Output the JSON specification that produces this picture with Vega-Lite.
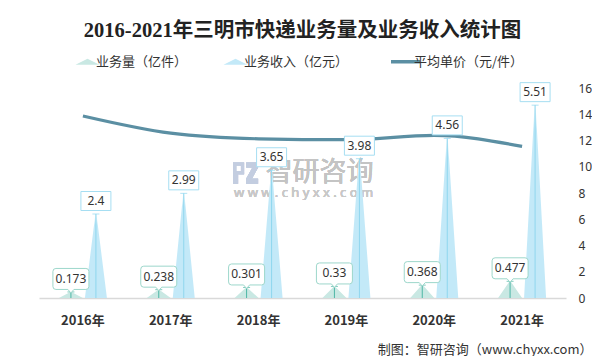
{
  "$schema": "https://vega.github.io/schema/vega-lite/v6.json",
  "width": 527,
  "height": 210,
  "padding": {"left": 39, "top": 20, "right": 0, "bottom": 0},
  "background": "white",
  "title": {
    "text": "2016-2021年三明市快递业务量及业务收入统计图",
    "font": "Liberation Serif, Noto Sans CJK SC",
    "fontSize": 20.5,
    "fontWeight": "bold",
    "color": "#222222",
    "anchor": "middle",
    "offset": 14
  },
  "data": {
    "values": [
      {"year": "2016年", "volume": 0.173, "revenue": 2.4, "price": 13.87},
      {"year": "2017年", "volume": 0.238, "revenue": 2.99, "price": 12.56},
      {"year": "2018年", "volume": 0.301, "revenue": 3.65, "price": 12.13},
      {"year": "2019年", "volume": 0.33, "revenue": 3.98, "price": 12.06},
      {"year": "2020年", "volume": 0.368, "revenue": 4.56, "price": 12.39},
      {"year": "2021年", "volume": 0.477, "revenue": 5.51, "price": 11.55}
    ]
  },
  "encoding": {
    "x": {
      "field": "year",
      "type": "nominal",
      "scale": {"domain": ["2016年", "2017年", "2018年", "2019年", "2020年", "2021年"], "paddingInner": 0, "paddingOuter": 0},
      "axis": {
        "title": "制图：智研咨询（www.chyxx.com）",
        "titleAnchor": "end",
        "titleAlign": "right",
        "titleX": 553,
        "titleY": 51,
        "titleBaseline": "middle",
        "titleFont": "Noto Sans CJK SC",
        "titleFontSize": 13,
        "titleFontWeight": "normal",
        "titleColor": "#333333",
        "labelAngle": 0,
        "labelFont": "Noto Sans CJK SC",
        "labelFontSize": 13,
        "labelFontWeight": "bold",
        "labelColor": "#333333",
        "labelPadding": 16,
        "ticks": false,
        "grid": false,
        "domainColor": "#d9d9d9",
        "domainWidth": 1.5
      }
    }
  },
  "layer": [
    {
      "layer": [
        {
          "mark": {"type": "point", "shape": "M-1,-0.85H-0.12V0.1H-0.6V0.85H-1Z M-0.75,-0.6V-0.15H-0.37V-0.6Z M0.05,-0.85H1V-0.45L0.5,0.45H1V0.85H0.05V0.45L0.55,-0.45H0.05Z", "size": 625, "filled": true, "fill": "#c3cde0", "opacity": 0.9, "strokeWidth": 0, "xOffset": -13},
          "encoding": {"x": {"datum": "2018年"}, "y": {"datum": 3.57, "type": "quantitative", "scale": {"domain": [0, 6]}, "axis": null}}
        },
        {
          "mark": {"type": "text", "text": "智研咨询", "font": "Noto Sans CJK SC", "fontSize": 27, "color": "#c4c4c4", "xOffset": 61},
          "encoding": {"x": {"datum": "2018年"}, "y": {"datum": 3.57, "type": "quantitative"}}
        },
        {
          "mark": {"type": "text", "text": "w w w . c h y x x . c o m", "font": "Noto Sans", "fontSize": 13, "color": "#c8c8c8", "xOffset": 45},
          "encoding": {"x": {"datum": "2018年"}, "y": {"datum": 3.0, "type": "quantitative"}}
        },
        {
          "transform": [
            {"fold": ["revenue"], "as": ["key", "value"]},
            {"impute": "value", "key": "key", "keyvals": ["base", "revenue"], "groupby": ["year"], "value": 0}
          ],
          "mark": {
            "type": "trail",
            "xOffset": 13,
            "clip": true,
            "color": {
              "gradient": "linear",
              "x1": 0, "y1": 0, "x2": 0, "y2": 1,
              "stops": [
                {"offset": 0, "color": "#f2fafd"},
                {"offset": 0.12, "color": "#c3e9f8"},
                {"offset": 1, "color": "#c3e9f8"}
              ]
            }
          },
          "encoding": {
            "y": {"field": "value", "type": "quantitative"},
            "size": {"condition": {"test": "datum.key === 'base'", "value": 22}, "value": 0},
            "detail": {"field": "year"},
            "order": {"field": "key"}
          }
        },
        {
          "transform": [
            {"fold": ["volume"], "as": ["key", "value"]},
            {"impute": "value", "key": "key", "keyvals": ["base", "volume"], "groupby": ["year"], "value": 0}
          ],
          "mark": {"type": "trail", "xOffset": -12, "clip": true},
          "encoding": {
            "y": {"field": "value", "type": "quantitative"},
            "size": {"condition": {"test": "datum.key === 'base'", "value": 24}, "value": 0},
            "detail": {"field": "year"},
            "order": {"field": "key"},
            "color": {"datum": "volume"}
          }
        }
      ]
    },
    {
      "mark": {"type": "line", "interpolate": "monotone", "strokeWidth": 3.2},
      "encoding": {
        "y": {
          "field": "price",
          "type": "quantitative",
          "scale": {"domain": [0, 16]},
          "axis": {
            "orient": "right",
            "title": null,
            "values": [0, 2, 4, 6, 8, 10, 12, 14, 16],
            "domain": false,
            "ticks": false,
            "grid": false,
            "labelPadding": 12,
            "labelFont": "Noto Sans",
            "labelFontSize": 12,
            "labelColor": "#333333"
          }
        },
        "color": {
          "datum": "price",
          "scale": {"domain": ["volume", "revenue", "price"], "range": ["#c9e8e3", "#c3e9f8", "#5b8fa3"]},
          "legend": {
            "orient": "none",
            "legendX": 42,
            "legendY": -33,
            "direction": "horizontal",
            "title": null,
            "labelFont": "Noto Sans CJK SC",
            "labelFontSize": 13,
            "labelColor": "#333333",
            "labelOffset": 2,
            "columnPadding": 35,
            "symbolSize": 841,
            "labelExpr": "datum.value === 'volume' ? '业务量（亿件）' : datum.value === 'revenue' ? '业务收入（亿元）' : '平均单价（元/件）'",
            "encode": {
              "symbols": {
                "update": {
                  "shape": {"signal": "datum.value === 'price' ? 'stroke' : 'M-1,0.25L0,-0.25L1,0.25Z'"},
                  "size": {"signal": "datum.value === 'price' ? 841 : 576"},
                  "strokeWidth": {"signal": "datum.value === 'price' ? 3.5 : 0"},
                  "fill": {"scale": "color", "field": "value"},
                  "stroke": {"scale": "color", "field": "value"},
                  "opacity": {"value": 1}
                }
              }
            }
          }
        }
      }
    },
    {
      "layer": [
        {
          "mark": {"type": "rule", "xOffset": 13, "color": "#8fd6ee", "strokeWidth": 1},
          "encoding": {"y": {"field": "revenue", "type": "quantitative", "scale": {"domain": [0, 6]}, "axis": null}, "y2": {"datum": 0}}
        },
        {
          "mark": {"type": "tick", "orient": "horizontal", "xOffset": 13, "color": "#8fd6ee", "size": 7, "thickness": 1},
          "encoding": {"y": {"field": "revenue", "type": "quantitative"}}
        },
        {
          "mark": {"type": "rule", "xOffset": -12, "color": "#4db6a5", "strokeWidth": 1},
          "encoding": {"y": {"field": "volume", "type": "quantitative"}, "y2": {"datum": 0}}
        },
        {
          "mark": {"type": "tick", "orient": "horizontal", "xOffset": -12, "color": "#4db6a5", "size": 7, "thickness": 1},
          "encoding": {"y": {"field": "volume", "type": "quantitative"}}
        },
        {
          "mark": {"type": "point", "shape": "M-1.5,-0.95H1.5V0.95H-1.5Z", "size": 400, "filled": true, "fill": "white", "stroke": "#a6def2", "strokeWidth": 1, "opacity": 1, "xOffset": 13, "yOffset": -13},
          "encoding": {"y": {"field": "revenue", "type": "quantitative"}}
        },
        {
          "mark": {"type": "text", "font": "Noto Sans", "fontSize": 12, "color": "#333333", "xOffset": 13, "yOffset": -13},
          "encoding": {"y": {"field": "revenue", "type": "quantitative"}, "text": {"field": "revenue", "type": "nominal"}}
        },
        {
          "mark": {"type": "point", "shape": "M-1.5,-1.05H1.5Q1.8,-1.05 1.8,-0.75V0.75Q1.8,1.05 1.5,1.05H0.3L0,1.4L-0.3,1.05H-1.5Q-1.8,1.05 -1.8,0.75V-0.75Q-1.8,-1.05 -1.5,-1.05Z", "size": 400, "filled": true, "fill": "white", "stroke": "#9dd7cb", "strokeWidth": 1, "opacity": 1, "xOffset": -12, "yOffset": -13},
          "encoding": {"y": {"field": "volume", "type": "quantitative"}}
        },
        {
          "mark": {"type": "text", "font": "Noto Sans", "fontSize": 12, "color": "#333333", "xOffset": -12, "yOffset": -13},
          "encoding": {"y": {"field": "volume", "type": "quantitative"}, "text": {"field": "volume", "type": "nominal"}}
        }
      ]
    }
  ],
  "resolve": {"scale": {"y": "independent"}},
  "config": {"view": {"stroke": null}}
}
